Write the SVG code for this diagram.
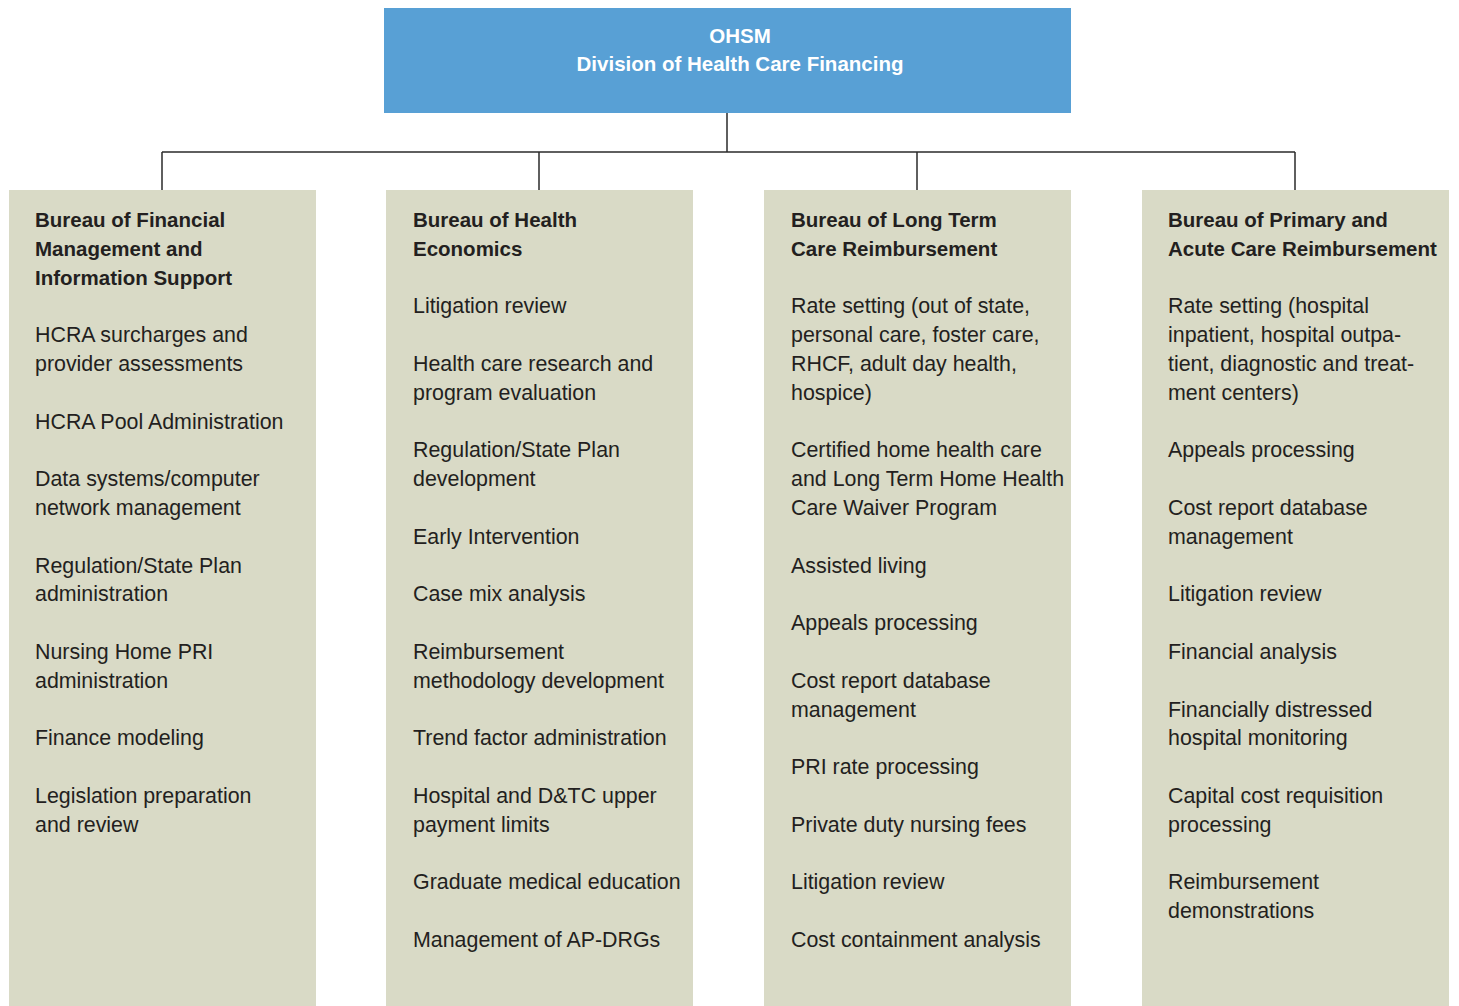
<svg xmlns="http://www.w3.org/2000/svg" width="1459" height="1006" viewBox="0 0 1459 1006">
<style>
.bg{fill:#ffffff}
.top{fill:#58a0d5}
.box{fill:#d9dac6}
.conn{stroke:#2b2b2b;stroke-width:1.5;fill:none}
.hd{font-family:"Liberation Sans",Arial,sans-serif;font-weight:bold;font-size:20.5px;fill:#ffffff;text-anchor:middle}
.tt{font-family:"Liberation Sans",Arial,sans-serif;font-weight:bold;font-size:20.5px;fill:#231f20}
.tx{font-family:"Liberation Sans",Arial,sans-serif;font-size:21.4px;fill:#231f20}
</style>
<rect class="bg" x="0" y="0" width="1459" height="1006"/>
<g id="connectors">
<path class="conn" d="M727,113 V152 M162,152 H1295 M162,152 V190 M539,152 V190 M917,152 V190 M1295,152 V190"/>
</g>
<g id="node-ohsm">
<rect class="top" x="384" y="8" width="687" height="105"/>
<text class="hd" x="740" y="43">OHSM</text>
<text class="hd" x="740" y="71">Division of Health Care Financing</text>
</g>
<g id="node-financial">
<rect class="box" x="9" y="190" width="307" height="816"/>
<text class="tt"><tspan x="35" y="227">Bureau of Financial</tspan><tspan x="35" y="256">Management and</tspan><tspan x="35" y="285">Information Support</tspan></text>
<text class="tx"><tspan x="35" y="342">HCRA surcharges and</tspan><tspan x="35" y="371">provider assessments</tspan><tspan x="35" y="429">HCRA Pool Administration</tspan><tspan x="35" y="486">Data systems/computer</tspan><tspan x="35" y="515">network management</tspan><tspan x="35" y="573">Regulation/State Plan</tspan><tspan x="35" y="601">administration</tspan><tspan x="35" y="659">Nursing Home PRI</tspan><tspan x="35" y="688">administration</tspan><tspan x="35" y="745">Finance modeling</tspan><tspan x="35" y="803">Legislation preparation</tspan><tspan x="35" y="832">and review</tspan></text>
</g>
<g id="node-economics">
<rect class="box" x="386" y="190" width="307" height="816"/>
<text class="tt"><tspan x="413" y="227">Bureau of Health</tspan><tspan x="413" y="256">Economics</tspan></text>
<text class="tx"><tspan x="413" y="313">Litigation review</tspan><tspan x="413" y="371">Health care research and</tspan><tspan x="413" y="400">program evaluation</tspan><tspan x="413" y="457">Regulation/State Plan</tspan><tspan x="413" y="486">development</tspan><tspan x="413" y="544">Early Intervention</tspan><tspan x="413" y="601">Case mix analysis</tspan><tspan x="413" y="659">Reimbursement</tspan><tspan x="413" y="688">methodology development</tspan><tspan x="413" y="745">Trend factor administration</tspan><tspan x="413" y="803">Hospital and D&amp;TC upper</tspan><tspan x="413" y="832">payment limits</tspan><tspan x="413" y="889">Graduate medical education</tspan><tspan x="413" y="947">Management of AP-DRGs</tspan></text>
</g>
<g id="node-longterm">
<rect class="box" x="764" y="190" width="307" height="816"/>
<text class="tt"><tspan x="791" y="227">Bureau of Long Term</tspan><tspan x="791" y="256">Care Reimbursement</tspan></text>
<text class="tx"><tspan x="791" y="313">Rate setting (out of state,</tspan><tspan x="791" y="342">personal care, foster care,</tspan><tspan x="791" y="371">RHCF, adult day health,</tspan><tspan x="791" y="400">hospice)</tspan><tspan x="791" y="457">Certified home health care</tspan><tspan x="791" y="486">and Long Term Home Health</tspan><tspan x="791" y="515">Care Waiver Program</tspan><tspan x="791" y="573">Assisted living</tspan><tspan x="791" y="630">Appeals processing</tspan><tspan x="791" y="688">Cost report database</tspan><tspan x="791" y="717">management</tspan><tspan x="791" y="774">PRI rate processing</tspan><tspan x="791" y="832">Private duty nursing fees</tspan><tspan x="791" y="889">Litigation review</tspan><tspan x="791" y="947">Cost containment analysis</tspan></text>
</g>
<g id="node-primary">
<rect class="box" x="1142" y="190" width="307" height="816"/>
<text class="tt"><tspan x="1168" y="227">Bureau of Primary and</tspan><tspan x="1168" y="256">Acute Care Reimbursement</tspan></text>
<text class="tx"><tspan x="1168" y="313">Rate setting (hospital</tspan><tspan x="1168" y="342">inpatient, hospital outpa-</tspan><tspan x="1168" y="371">tient, diagnostic and treat-</tspan><tspan x="1168" y="400">ment centers)</tspan><tspan x="1168" y="457">Appeals processing</tspan><tspan x="1168" y="515">Cost report database</tspan><tspan x="1168" y="544">management</tspan><tspan x="1168" y="601">Litigation review</tspan><tspan x="1168" y="659">Financial analysis</tspan><tspan x="1168" y="717">Financially distressed</tspan><tspan x="1168" y="745">hospital monitoring</tspan><tspan x="1168" y="803">Capital cost requisition</tspan><tspan x="1168" y="832">processing</tspan><tspan x="1168" y="889">Reimbursement</tspan><tspan x="1168" y="918">demonstrations</tspan></text>
</g>
</svg>
